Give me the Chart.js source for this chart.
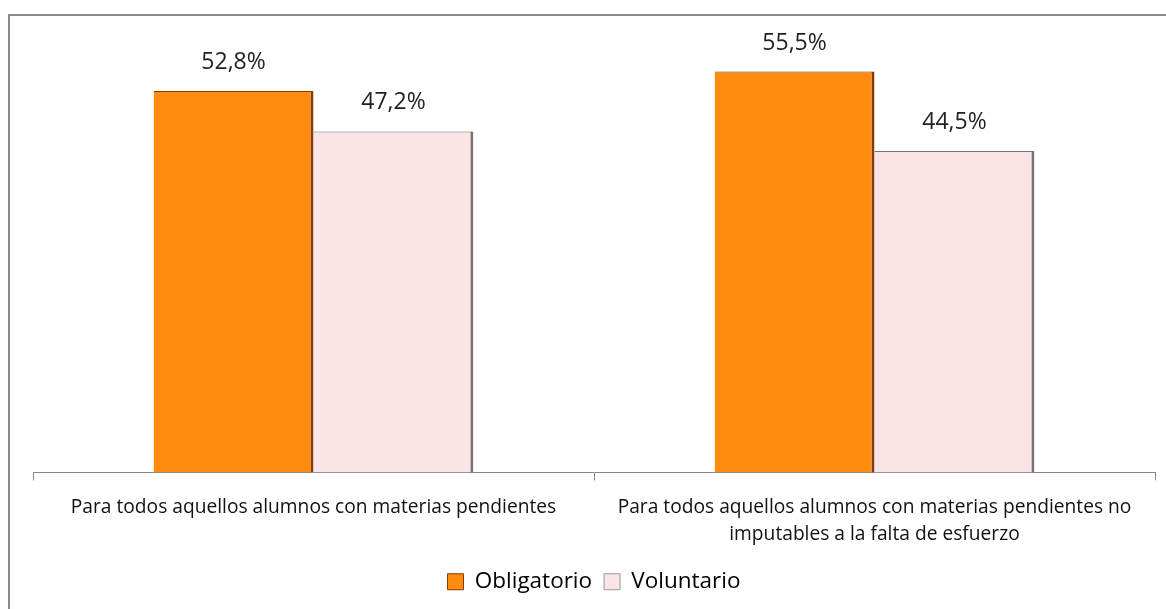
<!DOCTYPE html>
<html>
<head>
<meta charset="utf-8">
<script src="https://cdn.jsdelivr.net/npm/chart.js@4"></script>
<style>
  html, body { margin: 0; padding: 0; background: #fff; }
  #wrap { position: relative; width: 1166px; height: 609px; overflow: hidden; }
  #frame { position: absolute; left: 8px; top: 14px; width: 1200px; height: 700px;
           border-left: 2px solid #8a8a8a; border-top: 2px solid #8a8a8a; }
  canvas { position: absolute; left: 0; top: 0; }
</style>
</head>
<body>
<div id="wrap">
  <div id="frame"></div>
  <canvas id="chart" width="1166" height="609"></canvas>
</div>
<script>
// Categories and series
var categories = [
  "Para todos aquellos alumnos con materias pendientes",
  ["Para todos aquellos alumnos con materias pendientes no", "imputables a la falta de esfuerzo"]
];
var obligatorio = [52.8, 55.5];
var voluntario = [47.2, 44.5];

// value labels above bars, spanish decimal comma
var valueLabels = {
  id: "valueLabels",
  afterDatasetsDraw: function (chart) {
    var ctx = chart.ctx;
    ctx.save();
    ctx.font = "23px 'Open Sans'";
    ctx.fillStyle = "#222";
    ctx.textAlign = "center";
    ctx.textBaseline = "alphabetic";
    chart.data.datasets.forEach(function (ds, i) {
      chart.getDatasetMeta(i).data.forEach(function (bar, j) {
        var txt = ds.data[j].toFixed(1).replace(".", ",") + "%";
        ctx.fillText(txt, bar.x, bar.y - 22);
      });
    });
    ctx.restore();
  }
};

var ctx = document.getElementById("chart").getContext("2d");
var chart = new Chart(ctx, {
  type: "bar",
  data: {
    labels: categories,
    datasets: [
      {
        label: "Obligatorio",
        data: obligatorio,
        backgroundColor: "#ff8c0f",
        borderColor: "#8a3a05",
        borderWidth: { top: 1, right: 3, left: 0, bottom: 0 },
        borderSkipped: false,
        categoryPercentage: 0.57,
        barPercentage: 1,
      },
      {
        label: "Voluntario",
        data: voluntario,
        backgroundColor: "#fbe4e5",
        borderColor: "#7a7070",
        borderWidth: { top: 1, right: 3, left: 0, bottom: 0 },
        borderSkipped: false,
        categoryPercentage: 0.57,
        barPercentage: 1,
      },
    ],
  },
  options: {
    responsive: false,
    animation: false,
    layout: { padding: { left: 33, right: 11, top: 39, bottom: 6 } },
    plugins: {
      tooltip: { enabled: false },
      legend: {
        position: "bottom",
        labels: {
          font: { family: "Open Sans", size: 22.5 },
          color: "#111",
          boxWidth: 16,
          boxHeight: 16,
          padding: 12,
          generateLabels: function (chart) {
            return chart.data.datasets.map(function (ds, i) {
              return {
                text: ds.label,
                fillStyle: ds.backgroundColor,
                strokeStyle: i === 0 ? "#8a3a05" : "#999",
                lineWidth: 1,
                datasetIndex: i,
              };
            });
          },
        },
      },
    },
    scales: {
      x: {
        offset: true,
        border: { color: "#888", width: 1 },
        grid: { offset: true, drawOnChartArea: false, drawTicks: true, tickLength: 8, color: "#888" },
        ticks: {
          font: { family: "Open Sans", size: 19.2, lineHeight: 1.42 },
          color: "#111",
          maxRotation: 0,
          padding: 13,
        },
        afterFit: function (scale) { scale.height = 86; },
      },
      y: {
        display: false,
        min: 0,
        max: 60,
      },
    },
  },
  plugins: [valueLabels],
});
</script>
</body>
</html>
